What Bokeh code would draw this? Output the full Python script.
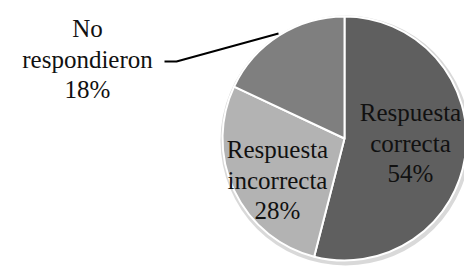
import math
from bokeh.plotting import figure
from bokeh.models import ColumnDataSource, Range1d, Label
from bokeh.embed import file_html
from bokeh.resources import INLINE

# ---- data ----
categories = ["Respuesta correcta", "Respuesta incorrecta", "No respondieron"]
percentages = [54, 28, 18]
label_words = [["Respuesta", "correcta"], ["Respuesta", "incorrecta"], ["No", "respondieron"]]

# ---- styling / layout ----
colors = ["#5f5f5f", "#b3b3b3", "#7f7f7f"]
W, H = 464, 269
cx, cy, R = 344, 131, 122          # pie centre and radius (screen-like data units)
label_pos = [(410, 157), (277, 120), (87, 241)]  # centre x, first-line baseline y
line_step = 30.5
FONT = "Liberation Serif"
FS = "25px"

p = figure(width=W, height=H, output_backend="svg", toolbar_location=None,
           x_range=Range1d(0, W), y_range=Range1d(0, H), min_border=0)
p.axis.visible = False
p.grid.visible = False
p.outline_line_color = None
p.background_fill_color = "white"
p.border_fill_color = "white"

# angles: start at 12 o'clock, go clockwise
total = sum(percentages)
starts, ends = [], []
acc = 0.0
for v in percentages:
    a0 = math.pi / 2 - 2 * math.pi * acc / total
    acc += v
    a1 = math.pi / 2 - 2 * math.pi * acc / total
    starts.append(a1)
    ends.append(a0)

src = ColumnDataSource(dict(cat=categories, val=percentages, start=starts, end=ends, color=colors))

# soft shadow
p.circle(x=[cx + 1], y=[cy - 2], radius=R + 3, fill_color="#cfcfcf", line_color=None, fill_alpha=0.8)
p.wedge(x=cx, y=cy, radius=R, start_angle="start", end_angle="end", direction="anticlock",
        fill_color="color", line_color="white", line_width=2, source=src)

# labels
for (lx, ly), words, v in zip(label_pos, label_words, percentages):
    lines = words + [f"{v}%"]
    for i, t in enumerate(lines):
        p.add_layout(Label(x=lx, y=ly - i * line_step, text=t, text_font=FONT,
                           text_font_size=FS, text_align="center",
                           text_baseline="alphabetic", text_color="#111111"))

# leader line for the outside label
p.line(x=[164, 176, 278], y=[208, 208, 236], line_color="black", line_width=2)

open("out.html", "w").write(file_html(p, INLINE))
